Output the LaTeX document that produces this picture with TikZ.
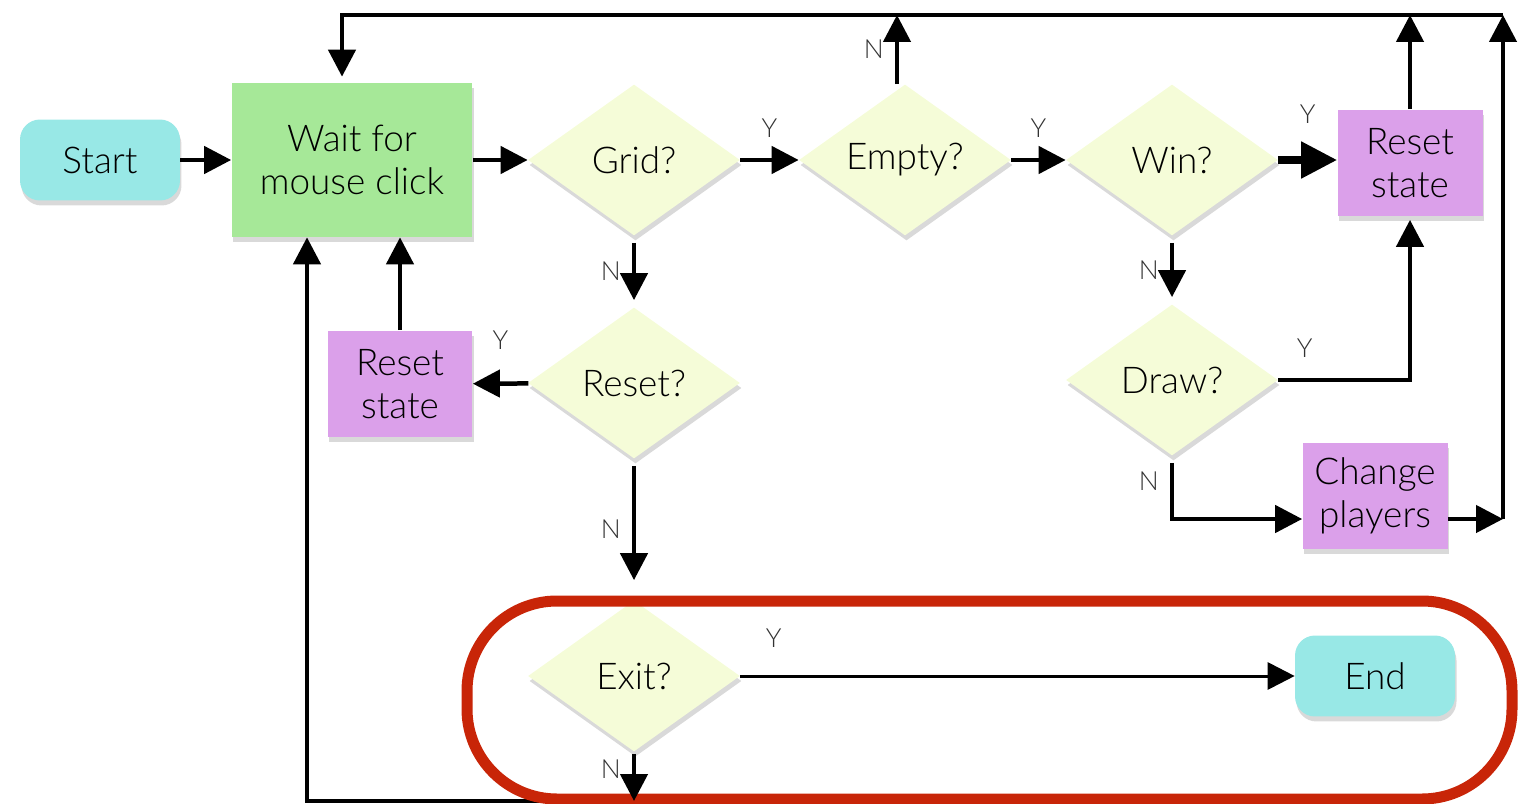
\documentclass[tikz,border=0pt]{standalone}
\usepackage{fontspec}
\setmainfont{Lato}[UprightFont=* Light]
\usetikzlibrary{shapes.geometric,arrows.meta,shadows}
\definecolor{termcol}{RGB}{152,232,230}
\definecolor{waitcol}{RGB}{166,232,152}
\definecolor{askcol}{RGB}{245,252,216}
\definecolor{actcol}{RGB}{219,160,234}
\definecolor{framecol}{RGB}{200,37,8}
\begin{document}
\begin{tikzpicture}[x=0.02cm,y=-0.02cm,font=\fontsize{21}{24.5}\selectfont,
    shade/.style={drop shadow={opacity=0.3,shadow xshift=0.03cm,shadow yshift=-0.1cm}},
    term/.style={shade,fill=termcol,rounded corners=0.4cm,minimum width=3.2cm,minimum height=1.62cm},
    act/.style={shade,fill=actcol,align=center,minimum width=2.9cm,minimum height=2.14cm},
    ask/.style={shade,diamond,fill=askcol,inner sep=0pt,minimum width=4.24cm,minimum height=3.02cm},
    arr/.style={line width=0.09cm,-{Triangle[length=0.54cm,width=0.54cm]}},
    lbl/.style={inner sep=0.1cm,text=black!80,font=\fontsize{15}{18}\selectfont},
    ylbl/.style={lbl,above=0.3cm},
    nlbl/.style={lbl,left=0.12cm}]
    \useasboundingbox (0,0) rectangle (1521,804);
    % nodes
    \node[term] (start) at (100,160) {Start};
    \node[shade,fill=waitcol,align=center,minimum width=4.82cm,minimum height=3.08cm] (wait) at (352,160) {Wait for\\mouse click};
    \node[ask] (grid) at (634,160) {Grid?};
    \node[ask] (empty) at (905,160) {Empty?};
    \node[ask] (win) at (1172,160) {Win?};
    \node[act] (rtop) at (1410,163) {Reset\\state};
    \node[ask] (resetq) at (634,383) {Reset?};
    \node[act] (rleft) at (400,384) {Reset\\state};
    \node[ask] (drawq) at (1172,380) {Draw?};
    \node[act] (change) at (1375,496) {Change\\players};
    \node[ask] (exitq) at (634,676) {Exit?};
    \node[term] (finish) at (1375,676) {End};
    \coordinate (tl) at (342,15);
    \coordinate (tr) at (1503,15);
    \coordinate (rr) at (1503,519);
    \coordinate (bm) at (634,801);
    \coordinate (bl) at (307,801);
    % connectors
    \draw[arr] (start) -- (wait);
    \draw[arr] (wait) -- (grid);
    \draw[arr] (grid) -- node[ylbl] {Y} (empty);
    \draw[arr] (empty) -- node[ylbl] {Y} (win);
    \draw[line width=0.16cm,-{Triangle[length=0.72cm,width=0.7cm]}] (win) -- node[ylbl,above=0.26cm] {Y} (win -| rtop.west);
    \draw[arr,shorten <=0.14cm,shorten >=0.14cm] (grid) -- node[nlbl] {N} (resetq);
    \draw[arr] (resetq) -- node[ylbl,above=0.24cm] {Y} (rleft);
    \draw[arr] (rleft.north) -- (rleft.north |- wait.south);
    \draw[arr,shorten <=0.14cm,shorten >=0.4cm] (resetq) -- node[nlbl] {N} (exitq);
    \draw[arr,line width=0.06cm] (exitq) -- node[ylbl,above=0.14cm,pos=0.06] {Y} (finish);
    \draw[arr] ([xshift=-0.16cm]empty.north) -- node[nlbl] {N} ([xshift=-0.16cm]empty.north |- tl);
    \draw[arr,shorten >=0.12cm] (tr) -- (tl) -- (tl |- wait.north);
    \draw[arr] (rtop.north) -- (rtop.north |- tl);
    \draw[arr,shorten >=0.06cm] (drawq) -| node[ylbl,pos=0.1] {Y} (rtop);
    \draw[arr,shorten <=0.14cm,shorten >=0.14cm] (win) -- node[nlbl] {N} (drawq);
    \draw[arr,shorten <=0.14cm] (drawq.south) |- node[nlbl,pos=0.2] {N} ([shift={(0,23)}]change.west);
    \draw[arr] ([shift={(0,23)}]change.east) -- (rr);
    \draw[arr] (rr) -- (tr);
    \draw[arr] (bm) -- (bl) -- (bl |- wait.south);
    % exit frame
    \draw[framecol,line width=0.22cm,rounded corners=1.8cm] (467,601) rectangle (1512,799);
    \draw[arr,shorten <=0.04cm] (exitq) -- node[nlbl,yshift=0.14cm] {N} (bm);
\end{tikzpicture}
\end{document}
